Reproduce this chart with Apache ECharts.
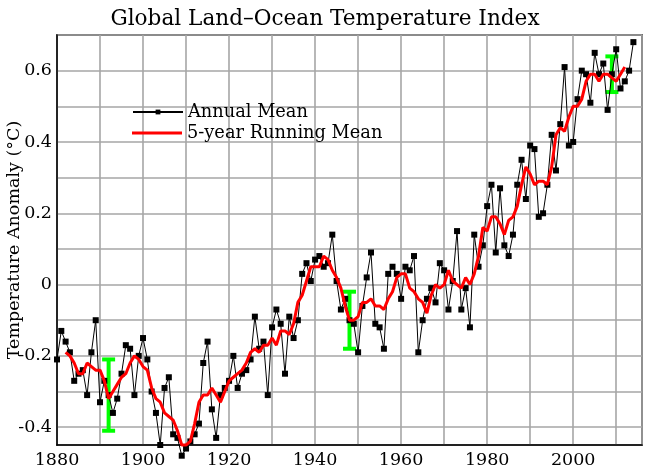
<!DOCTYPE html>
<html><head><meta charset="utf-8">
<script src="https://cdn.jsdelivr.net/npm/echarts@6/dist/echarts.min.js"></script>
<style>html,body{margin:0;padding:0;background:#fff}#c{width:650px;height:468px}</style>
</head><body><div id="c"></div>
<script>
const years = [1880,1881,1882,1883,1884,1885,1886,1887,1888,1889,
1890,1891,1892,1893,1894,1895,1896,1897,1898,1899,
1900,1901,1902,1903,1904,1905,1906,1907,1908,1909,
1910,1911,1912,1913,1914,1915,1916,1917,1918,1919,
1920,1921,1922,1923,1924,1925,1926,1927,1928,1929,
1930,1931,1932,1933,1934,1935,1936,1937,1938,1939,
1940,1941,1942,1943,1944,1945,1946,1947,1948,1949,
1950,1951,1952,1953,1954,1955,1956,1957,1958,1959,
1960,1961,1962,1963,1964,1965,1966,1967,1968,1969,
1970,1971,1972,1973,1974,1975,1976,1977,1978,1979,
1980,1981,1982,1983,1984,1985,1986,1987,1988,1989,
1990,1991,1992,1993,1994,1995,1996,1997,1998,1999,
2000,2001,2002,2003,2004,2005,2006,2007,2008,2009,
2010,2011,2012,2013,2014];
const annualMean = [-0.21,-0.13,-0.16,-0.19,-0.27,-0.25,-0.24,-0.31,-0.19,-0.10,
-0.33,-0.27,-0.31,-0.36,-0.32,-0.25,-0.17,-0.18,-0.31,-0.20,
-0.15,-0.21,-0.30,-0.36,-0.45,-0.29,-0.26,-0.42,-0.43,-0.48,
-0.46,-0.44,-0.42,-0.39,-0.22,-0.16,-0.35,-0.43,-0.31,-0.29,
-0.27,-0.20,-0.29,-0.25,-0.24,-0.21,-0.09,-0.18,-0.16,-0.31,
-0.12,-0.07,-0.11,-0.25,-0.09,-0.15,-0.10,0.03,0.06,0.01,
0.07,0.08,0.05,0.06,0.14,0.01,-0.07,-0.04,-0.10,-0.11,
-0.19,-0.06,0.02,0.09,-0.11,-0.12,-0.18,0.03,0.05,0.03,
-0.04,0.05,0.04,0.08,-0.19,-0.10,-0.04,-0.01,-0.05,0.06,
0.04,-0.07,0.01,0.15,-0.07,-0.01,-0.12,0.14,0.05,0.11,
0.22,0.28,0.09,0.27,0.11,0.08,0.14,0.28,0.35,0.24,
0.39,0.38,0.19,0.20,0.28,0.42,0.32,0.45,0.61,0.39,
0.40,0.52,0.60,0.59,0.51,0.65,0.59,0.62,0.49,0.59,
0.66,0.55,0.57,0.60,0.68];
const runningYears = [1882,1883,1884,1885,1886,1887,1888,1889,
1890,1891,1892,1893,1894,1895,1896,1897,1898,1899,
1900,1901,1902,1903,1904,1905,1906,1907,1908,1909,
1910,1911,1912,1913,1914,1915,1916,1917,1918,1919,
1920,1921,1922,1923,1924,1925,1926,1927,1928,1929,
1930,1931,1932,1933,1934,1935,1936,1937,1938,1939,
1940,1941,1942,1943,1944,1945,1946,1947,1948,1949,
1950,1951,1952,1953,1954,1955,1956,1957,1958,1959,
1960,1961,1962,1963,1964,1965,1966,1967,1968,1969,
1970,1971,1972,1973,1974,1975,1976,1977,1978,1979,
1980,1981,1982,1983,1984,1985,1986,1987,1988,1989,
1990,1991,1992,1993,1994,1995,1996,1997,1998,1999,
2000,2001,2002,2003,2004,2005,2006,2007,2008,2009,
2010,2011,2012];
const runningMean = [-0.19,-0.20,-0.22,-0.25,-0.25,-0.22,-0.23,-0.24,
-0.24,-0.27,-0.32,-0.30,-0.28,-0.26,-0.25,-0.22,-0.20,-0.21,
-0.23,-0.24,-0.29,-0.32,-0.33,-0.36,-0.37,-0.38,-0.41,-0.45,
-0.45,-0.44,-0.39,-0.33,-0.31,-0.31,-0.29,-0.31,-0.33,-0.30,
-0.27,-0.26,-0.25,-0.24,-0.22,-0.19,-0.18,-0.19,-0.17,-0.17,
-0.15,-0.17,-0.13,-0.13,-0.14,-0.11,-0.05,-0.03,0.01,0.05,
0.05,0.05,0.08,0.07,0.04,0.02,-0.01,-0.06,-0.10,-0.10,
-0.09,-0.05,-0.05,-0.04,-0.06,-0.06,-0.07,-0.04,-0.02,0.02,
0.03,0.03,-0.01,-0.02,-0.04,-0.05,-0.08,-0.03,0.00,-0.01,
0.00,0.04,0.01,0.00,-0.01,0.02,0.00,0.03,0.08,0.16,
0.15,0.19,0.19,0.17,0.14,0.18,0.19,0.22,0.28,0.33,
0.31,0.28,0.29,0.29,0.28,0.33,0.42,0.44,0.43,0.47,
0.50,0.50,0.52,0.57,0.59,0.59,0.57,0.59,0.59,0.58,
0.57,0.59,0.61];
const errYears = [1892, 1948, 2009];
const errLow = [-0.41, -0.18, 0.54];
const errHigh = [-0.21, -0.02, 0.64];
const xTickLabels = [1880, 1900, 1920, 1940, 1960, 1980, 2000];
const yTickLabels = [-0.4, -0.2, 0, 0.2, 0.4, 0.6];

const FONT = 'DejaVu Serif';
const chart = echarts.init(document.getElementById('c'), null, {renderer: 'canvas'});
const gridColor = '#a6a6a6';
const legendText = {fontFamily: FONT, fontSize: 17.8, color: '#000'};
chart.setOption({
  animation: false,
  backgroundColor: '#fff',
  title: {
    text: 'Global Land\u2013Ocean Temperature Index',
    left: 'center', top: 3,
    textStyle: {fontFamily: FONT, fontSize: 21.6, fontWeight: 'normal', color: '#000'}
  },
  legend: [
    {
      data: ['Annual Mean'],
      left: 132, top: 103, padding: 0,
      itemWidth: 50, itemHeight: 6,
      textStyle: legendText
    },
    {
      data: [{name: '5-year Running Mean', icon: 'rect'}],
      left: 132, top: 124, padding: 0,
      itemWidth: 50, itemHeight: 3,
      textStyle: legendText
    }
  ],
  grid: {left: 57, right: 8, top: 35, bottom: 23, outerBoundsMode: 'none', containLabel: false,
         show: true, borderColor: '#000', borderWidth: 1.5, backgroundColor: 'transparent'},
  xAxis: {
    type: 'value', min: 1880, max: 2016, interval: 10,
    axisLine: {show: true, onZero: false, lineStyle: {color: '#000', width: 1.5}},
    axisTick: {show: false},
    splitLine: {show: true, interval: 0, lineStyle: {color: gridColor, width: 1.6}},
    axisLabel: {
      interval: 0,
      fontFamily: FONT, fontSize: 17.5, color: '#000', margin: 6,
      showMaxLabel: false,
      formatter: v => xTickLabels.indexOf(Math.round(v)) >= 0 && Math.abs(v - Math.round(v)) < 1e-6 ? String(Math.round(v)) : ''
    }
  },
  yAxis: {
    type: 'value', min: -0.45, max: 0.7, splitNumber: 12, minInterval: 0.1, maxInterval: 0.1,
    name: 'Temperature Anomaly (\u00B0C)', nameLocation: 'middle', nameGap: 34, nameMoveOverlap: false,
    nameTextStyle: {fontFamily: FONT, fontSize: 17.5, color: '#000'},
    axisLine: {show: true, onZero: false, lineStyle: {color: '#000', width: 1.5}},
    axisTick: {show: false},
    splitLine: {show: true, interval: 0, lineStyle: {color: gridColor, width: 1.6}},
    axisLabel: {
      interval: 0,
      fontFamily: FONT, fontSize: 17.5, color: '#000', margin: 5,
      formatter: v => {
        const t = yTickLabels.find(t => Math.abs(t - v) < 1e-6);
        if (t === undefined) return '';
        return t === 0 ? '0' : String(t);
      }
    }
  },
  series: [
    {
      type: 'custom', name: 'err', silent: true, clip: false, z: 1,
      data: errYears.map((y, i) => [y, errLow[i], errHigh[i]]),
      encode: {x: 0, y: [1, 2]},
      renderItem: (params, api) => {
        const lo = api.coord([api.value(0), api.value(1)]);
        const hi = api.coord([api.value(0), api.value(2)]);
        const hw = 6.5;
        const st = {stroke: '#00ff00', lineWidth: 4};
        return {type: 'group', children: [
          {type: 'line', shape: {x1: lo[0], y1: lo[1], x2: hi[0], y2: hi[1]}, style: st},
          {type: 'line', shape: {x1: lo[0] - hw, y1: lo[1], x2: lo[0] + hw, y2: lo[1]}, style: st},
          {type: 'line', shape: {x1: hi[0] - hw, y1: hi[1], x2: hi[0] + hw, y2: hi[1]}, style: st}
        ]};
      }
    },
    {
      type: 'line', name: 'Annual Mean', clip: false, z: 2,
      data: years.map((y, i) => [y, annualMean[i]]),
      symbol: 'rect', symbolSize: 6, showSymbol: true,
      itemStyle: {color: '#000'},
      lineStyle: {color: '#000', width: 1}
    },
    {
      type: 'line', name: '5-year Running Mean', clip: false, z: 3,
      data: runningYears.map((y, i) => [y, runningMean[i]]),
      symbol: 'none', showSymbol: false,
      itemStyle: {color: '#ff0000'},
      lineStyle: {color: '#ff0000', width: 3}
    }
  ]
});
</script>
</body></html>
